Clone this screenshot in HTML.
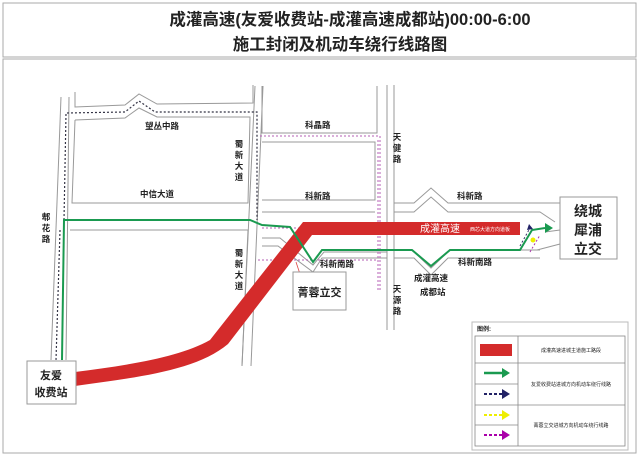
<!DOCTYPE html>
<html><head><meta charset="utf-8"><style>
html,body{margin:0;padding:0;background:#fff;}
svg{display:block;}
text{font-family:"Liberation Sans","Noto Sans CJK SC",sans-serif;fill:#222;}
</style></head><body>
<svg width="640" height="467" viewBox="0 0 640 467" xmlns="http://www.w3.org/2000/svg">
<rect x="0" y="0" width="640" height="467" fill="#fff"/>
<rect x="3" y="3" width="633" height="54" fill="none" stroke="#aaa" stroke-width="1"/>
<text x="350" y="25" font-size="16.5" font-weight="bold" text-anchor="middle">成灌高速(友爱收费站-成灌高速成都站)00:00-6:00</text>
<text x="340" y="50" font-size="16.5" font-weight="bold" text-anchor="middle">施工封闭及机动车绕行线路图</text>
<rect x="3" y="59" width="633" height="394" fill="none" stroke="#aaa" stroke-width="1"/>

<g fill="none" stroke="#999" stroke-width="1">
<line x1="61" y1="97" x2="51" y2="360"/>
<line x1="69" y1="97" x2="66" y2="360"/>
<polyline points="75,92 75,107 125,105 139,94 157,104 253,103 253,85"/>
<polyline points="75,120 125,118 139,108 157,117 250,117 248,203 72,203 75,120"/>
<line x1="255" y1="86" x2="242" y2="366"/>
<line x1="263" y1="86" x2="251" y2="366"/>
<polyline points="70,230 248,230 242,366"/>
<polyline points="262,86 262,133 377,133 377,86"/>
<polyline points="262,142 375,142 375,200 262,200"/>
<line x1="387" y1="85" x2="387" y2="330"/>
<line x1="394" y1="85" x2="394" y2="330"/>
<polyline points="394,203 414,203 431,188 448,203 560,203"/>
<polyline points="262,212 375,212"/>
<polyline points="394,212 414,212 431,197 448,212 540,212 555,222"/>
<polyline points="262,238 280,238 313,265 324,252 387,252"/>
<polyline points="262,246 278,246 313,272 322,258 387,258"/>
<polyline points="394,250 412,250 431,268 450,250 540,250"/>
<polyline points="394,258 414,258 431,275 448,258 540,258"/>
<polyline points="545,232 560,230"/>
<polyline points="537,250 560,244"/>
</g>
<g fill="none" stroke="#b55fb5" stroke-width="1" stroke-dasharray="2,2">
<polyline points="260,136 380,136 380,290 378,290 378,138"/>
<line x1="262" y1="228" x2="375" y2="228"/>
<line x1="258" y1="260" x2="378" y2="260"/>
</g>
<g fill="none" stroke="#334" stroke-width="1.2" stroke-dasharray="2,2">
<polyline points="64,220 66,113 125,112 139,101 155,112 257,112 257,220"/>
<line x1="60" y1="230" x2="56" y2="360"/>
</g>
<path d="M75,372 C130,365 180,357 210,340 L303,222 L520,222 L520,235 L312,235 L228,344 C195,372 130,378 75,386 Z" fill="#d42b2b"/>
<text x="420" y="232" font-size="10" style="fill:#fff">成灌高速</text>
<text x="470" y="231" font-size="5" style="fill:#fff">西芯大道方向道板</text>
<polyline points="62,360 64,220 250,220 262,225 290,227 313,262 322,250 412,250 431,266 450,250 520,250 532,230 545,228" fill="none" stroke="#1a9a50" stroke-width="2"/>
<polygon points="545,223 553,228 545,233" fill="#1a9a50"/>
<polyline points="520,246 530,228" stroke="#336" stroke-dasharray="2,2" fill="none"/>
<polygon points="529,224 533,229 527,230" fill="#226"/>
<circle cx="533" cy="240" r="2.5" fill="#ee0"/>
<polyline points="530,252 540,235" stroke="#a3a" stroke-dasharray="2,2" fill="none"/>
<line x1="306" y1="292" x2="296" y2="262" stroke="#d44" stroke-width="0.8"/>
<g font-size="8.5" font-weight="bold">
<text x="145" y="129">望丛中路</text>
<text x="140" y="197">中信大道</text>
<text x="305" y="128">科晶路</text>
<text x="305" y="199">科新路</text>
<text x="457" y="199">科新路</text>
<text x="320" y="267">科新南路</text>
<text x="458" y="265">科新南路</text>
<text x="414" y="281">成灌高速</text>
<text x="420" y="295">成都站</text>
</g>
<g font-size="8.5" font-weight="bold" text-anchor="middle">
<text x="46" y="220">郫</text><text x="46" y="231">花</text><text x="46" y="242">路</text>
<text x="239" y="147">蜀</text><text x="239" y="158">新</text><text x="239" y="169">大</text><text x="239" y="180">道</text>
<text x="239" y="256">蜀</text><text x="239" y="267">新</text><text x="239" y="278">大</text><text x="239" y="289">道</text>
<text x="397" y="140">天</text><text x="397" y="151">健</text><text x="397" y="162">路</text>
<text x="397" y="292">天</text><text x="397" y="303">源</text><text x="397" y="314">路</text>
</g>
<rect x="293" y="272" width="53" height="38" fill="#fff" stroke="#999"/>
<text x="319.5" y="296" font-size="11" font-weight="bold" text-anchor="middle">菁蓉立交</text>
<rect x="560" y="197" width="57" height="62" fill="#fff" stroke="#999"/>
<g font-size="14" font-weight="bold" text-anchor="middle">
<text x="588" y="216">绕城</text><text x="588" y="235">犀浦</text><text x="588" y="254">立交</text>
</g>
<rect x="27" y="361" width="49" height="43" fill="#fff" stroke="#999"/>
<g font-size="11" font-weight="bold" text-anchor="middle">
<text x="51" y="379">友爱</text><text x="51" y="396">收费站</text>
</g>
<rect x="472" y="322" width="156" height="128" fill="none" stroke="#bbb"/>
<text x="477" y="331" font-size="6" font-weight="bold">图例:</text>
<g fill="none" stroke="#888" stroke-width="0.8">
<rect x="475" y="336" width="150" height="110"/>
<line x1="518" y1="336" x2="518" y2="446"/>
<line x1="475" y1="363" x2="625" y2="363"/>
<line x1="475" y1="384" x2="518" y2="384"/>
<line x1="475" y1="405" x2="625" y2="405"/>
<line x1="475" y1="425" x2="518" y2="425"/>
</g>
<rect x="480" y="344" width="32" height="12" fill="#d42b2b"/>
<line x1="484" y1="373" x2="503" y2="373" stroke="#1a9a50" stroke-width="2.5"/>
<polygon points="502,368 510,373 502,378" fill="#1a9a50"/>
<line x1="484" y1="394" x2="503" y2="394" stroke="#226" stroke-width="2" stroke-dasharray="3,2"/>
<polygon points="502,389 510,394 502,399" fill="#226"/>
<line x1="484" y1="415" x2="503" y2="415" stroke="#ee0" stroke-width="2" stroke-dasharray="3,2"/>
<polygon points="502,410 510,415 502,420" fill="#ee0"/>
<line x1="484" y1="435" x2="503" y2="435" stroke="#a0a" stroke-width="2" stroke-dasharray="3,2"/>
<polygon points="502,430 510,435 502,440" fill="#a0a"/>
<g font-size="5" text-anchor="middle">
<text x="571" y="352">成灌高速进城主道施工路段</text>
<text x="571" y="386">友爱收费站进城方向机动车绕行线路</text>
<text x="571" y="427">菁蓉立交进城方向机动车绕行线路</text>
</g>
</svg>
</body></html>
